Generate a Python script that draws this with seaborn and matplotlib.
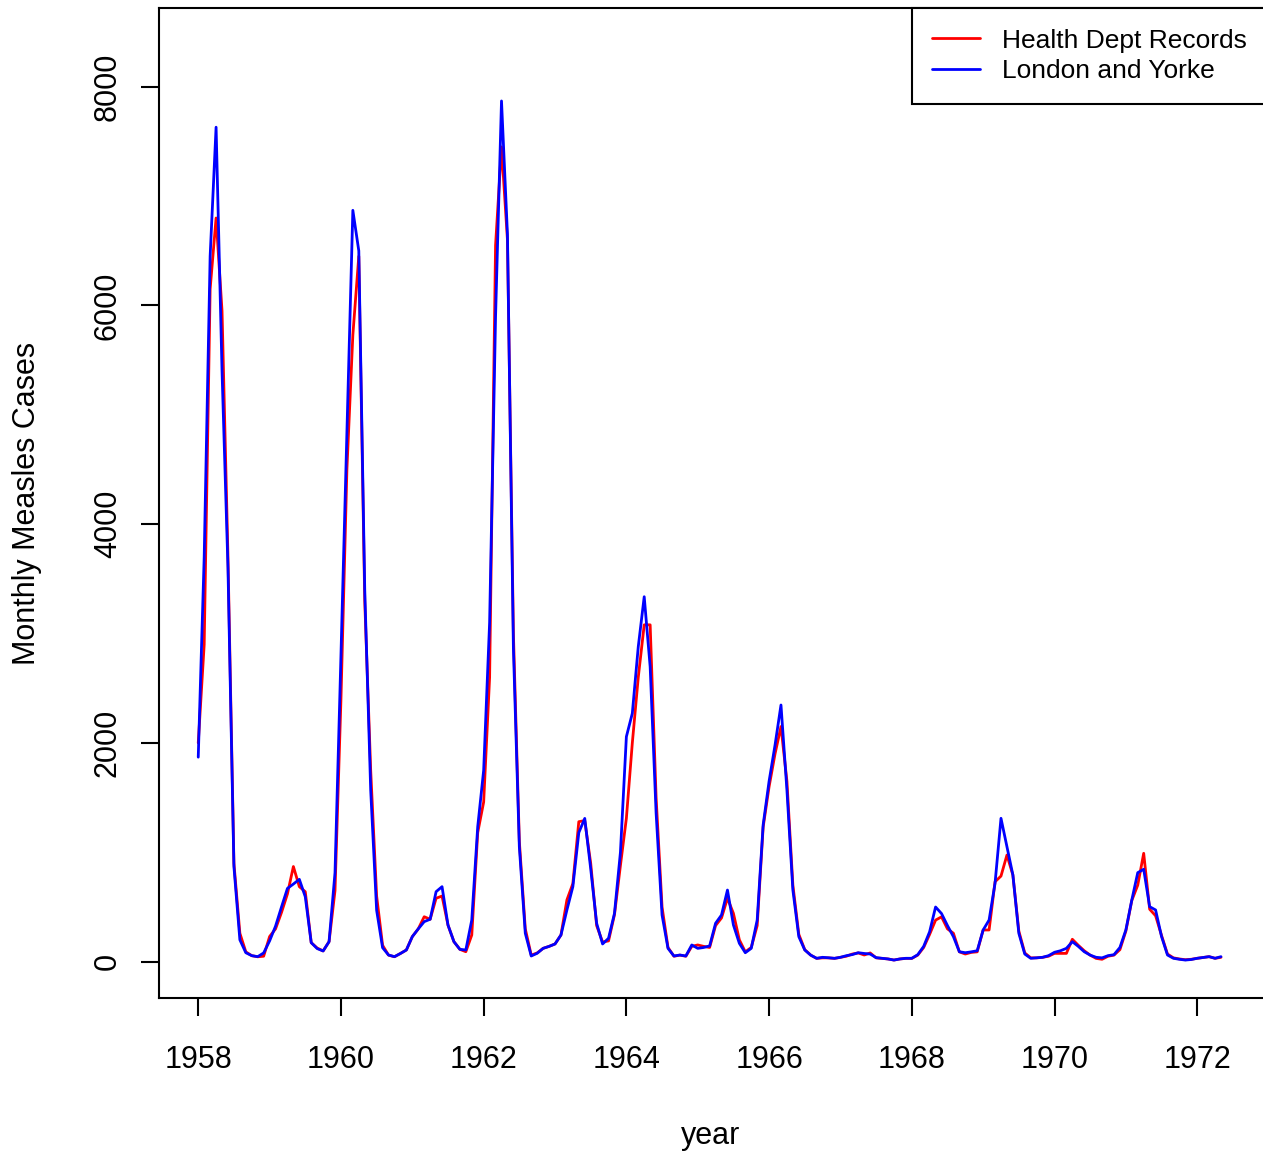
import numpy as np
import pandas as pd
import matplotlib
matplotlib.use("Agg")
import matplotlib.pyplot as plt
import seaborn as sns

# ---- data (monthly cases, Jan 1958 - May 1972) ----
start_year = 1958
health_dept = [
    # 1958
    2000, 2900, 6150, 6800, 5950, 3700, 900, 260, 90, 55, 45, 50,
    # 1959
    230, 300, 450, 620, 870, 686, 640, 174, 125, 98, 183, 650,
    # 1960
    2400, 4500, 5730, 6450, 3300, 1750, 600, 150, 60, 45, 75, 107,
    # 1961
    229, 300, 411, 388, 580, 600, 335, 183, 113, 91, 244, 1180,
    # 1962
    1460, 2600, 6550, 7450, 6600, 3000, 1100, 300, 60, 80, 122, 140,
    # 1963
    162, 244, 565, 714, 1280, 1290, 900, 330, 180, 190, 430, 880,
    # 1964
    1311, 2000, 2600, 3080, 3080, 1500, 500, 130, 50, 60, 50, 140,
    # 1965
    153, 140, 130, 330, 400, 580, 442, 200, 90, 130, 330, 1230,
    # 1966
    1600, 1900, 2150, 1650, 700, 250, 110, 60, 30, 35, 35, 30,
    # 1967
    40, 50, 70, 80, 61, 80, 35, 30, 25, 15, 25, 30,
    # 1968
    30, 60, 130, 250, 380, 410, 300, 260, 90, 70, 85, 90,
    # 1969
    290, 290, 731, 783, 975, 793, 280, 80, 35, 35, 40, 50,
    # 1970
    76, 76, 76, 205, 150, 100, 60, 30, 22, 50, 60, 110,
    # 1971
    280, 560, 700, 991, 480, 420, 240, 70, 35, 25, 18, 22,
    # 1972
    31, 38, 46, 31, 40,
]
london_yorke = [
    # 1958
    1870, 3700, 6450, 7630, 5400, 3600, 870, 200, 82, 55, 46, 80,
    # 1959
    190, 325, 500, 670, 710, 753, 594, 174, 120, 98, 183, 814,
    # 1960
    2800, 4850, 6870, 6500, 3400, 1570, 470, 128, 61, 46, 75, 107,
    # 1961
    229, 300, 366, 388, 640, 686, 335, 183, 113, 107, 381, 1234,
    # 1962
    1750, 3100, 5900, 7870, 6650, 2870, 1050, 260, 52, 77, 122, 140,
    # 1963
    162, 244, 473, 686, 1180, 1310, 850, 351, 162, 214, 442, 1000,
    # 1964
    2057, 2271, 2880, 3337, 2697, 1360, 427, 122, 52, 61, 52, 153,
    # 1965
    122, 130, 144, 351, 427, 655, 336, 168, 82, 122, 381, 1250,
    # 1966
    1650, 1980, 2347, 1570, 656, 229, 107, 60, 31, 40, 35, 31,
    # 1967
    40, 55, 65, 82, 75, 70, 37, 31, 25, 15, 25, 31,
    # 1968
    31, 64, 140, 274, 500, 440, 330, 229, 91, 82, 90, 100,
    # 1969
    290, 381, 717, 1311, 1050, 793, 260, 70, 31, 35, 40, 55,
    # 1970
    86, 100, 122, 183, 140, 91, 60, 40, 35, 55, 64, 130,
    # 1971
    290, 564, 814, 845, 503, 473, 230, 61, 31, 22, 15, 20,
    # 1972
    31, 38, 46, 31, 46,
]
series_names = ["Health Dept Records", "London and Yorke"]
series_colors = ["#FF0000", "#0000FF"]
x_ticks = [1958, 1960, 1962, 1964, 1966, 1968, 1970, 1972]
y_ticks = [0, 2000, 4000, 6000, 8000]

years = start_year + np.arange(len(health_dept)) / 12.0
df = pd.DataFrame({"year": years, "hd": health_dept, "ly": london_yorke})

sns.set_theme(style="white")
plt.rcParams["font.family"] = ["Liberation Sans", "DejaVu Sans"]
plt.rcParams["text.color"] = "black"

W, H = 1263, 1152
fig = plt.figure(figsize=(W / 100, H / 100), dpi=100)
fig.patch.set_facecolor("white")
L, R, T, B = 159, 1265, 8, 998
ax = fig.add_axes([L / W, 1 - B / H, (R - L) / W, (B - T) / H])
ax.set_facecolor("white")

lw = 2.0
sns.lineplot(data=df, x="year", y="hd", ax=ax, color=series_colors[0],
             linewidth=lw, estimator=None, label=series_names[0])
sns.lineplot(data=df, x="year", y="ly", ax=ax, color=series_colors[1],
             linewidth=lw, estimator=None, label=series_names[1])

ax.set_xlim(1957.45, 1972.95)
ax.set_ylim(-332, 8720)
ax.set_xticks(x_ticks)
ax.set_xticklabels([str(t) for t in x_ticks])
ax.set_yticks(y_ticks)
ax.set_yticklabels([str(t) for t in y_ticks], rotation=90, va="center")
ax.set_xlabel("")
ax.set_ylabel("")

for s in ax.spines.values():
    s.set_visible(True)
    s.set_color("black")
    s.set_linewidth(1.5)

ax.tick_params(axis="both", which="major", bottom=True, left=True,
               direction="out", length=13, width=1.5, color="black",
               labelsize=22, labelcolor="black")
ax.tick_params(axis="x", pad=20.5)
ax.tick_params(axis="y", pad=13)

fig.text(711 / W, 1 - 1136 / H, "year", ha="center", va="center",
         fontsize=22, color="black")
fig.text(27 / W, 1 - 503 / H, "Monthly Measles Cases", ha="center",
         va="center", rotation=90, fontsize=22, color="black")

# legend: left edge of box near x=913 px, top on the upper spine
leg_right_px = 1267
leg = ax.legend(loc="upper right",
                bbox_to_anchor=((leg_right_px - L) / (R - L), 1.0),
                borderaxespad=0.0, fontsize=19, frameon=True,
                fancybox=False, shadow=False, framealpha=1,
                edgecolor="black", handlelength=1.82, handletextpad=0.8,
                labelspacing=0.24, borderpad=0.78)
leg.get_frame().set_linewidth(1.5)
for line in leg.get_lines():
    line.set_linewidth(lw)
for txt in leg.get_texts():
    txt.set_color("black")

fig.savefig("out.png", dpi=100, facecolor="white")
